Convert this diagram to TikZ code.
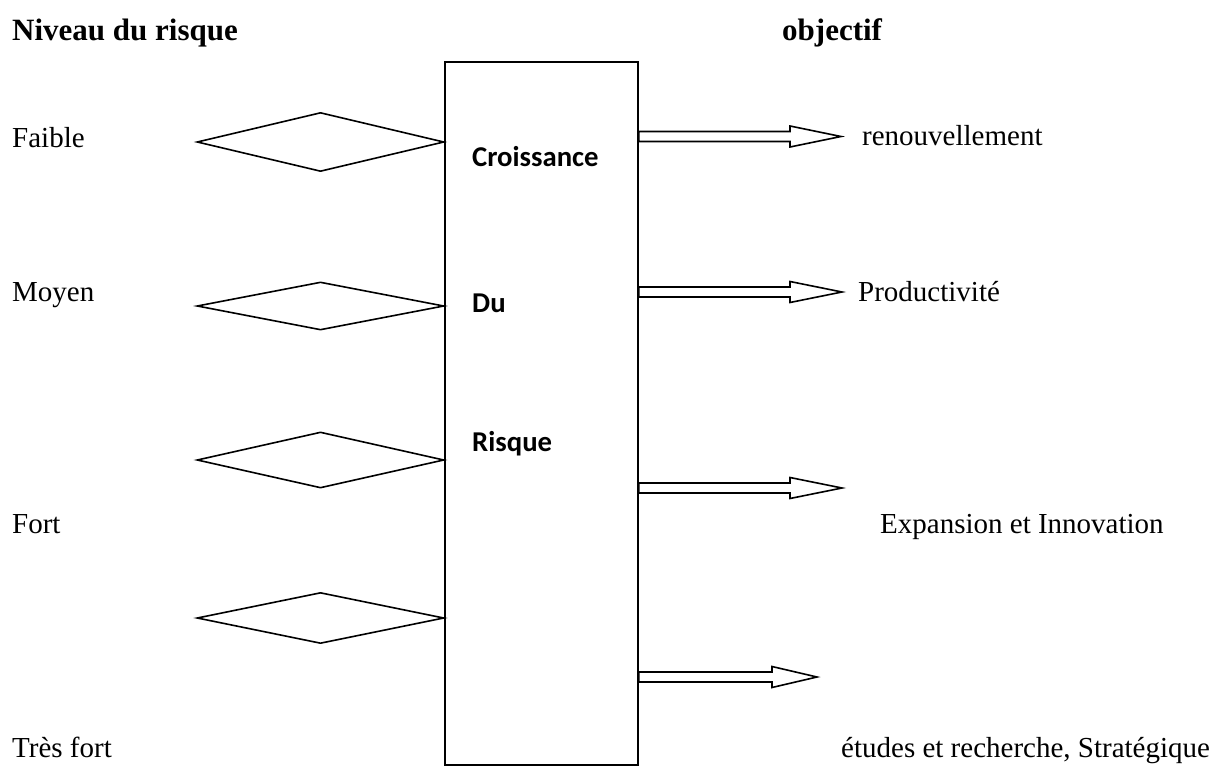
\documentclass[tikz,border=0pt]{standalone}
\usepackage{fontspec}
\setmainfont{Liberation Serif}
\newfontfamily\boxfont{Carlito}
\usetikzlibrary{shapes.geometric,calc}

\tikzset{
  lbl/.style={anchor=base west, inner sep=0pt, font=\fontsize{29}{34}\selectfont},
  head/.style={anchor=base west, inner sep=0pt, font=\fontsize{31}{36}\selectfont\bfseries},
  inlbl/.style={anchor=base west, inner sep=0pt, font=\boxfont\fontsize{28.7}{34}\selectfont\bfseries},
  bigbox/.style={draw, line width=1.8pt, fill=white},
  lozenge/.style={diamond, draw, line width=1.6pt, inner sep=0pt, minimum width=247pt},
  hollow/.style={draw, line width=1.6pt, fill=white, line join=miter},
}

% hollow block arrow: #1 start, #2 tip, #3 head length
\newcommand\hollowarrow[3]{%
  \draw[hollow] let \p1=(#1), \p2=(#2) in
    (\x1,\y1+5pt) -- (\x2-#3,\y1+5pt) -- (\x2-#3,\y1+10.5pt) -- (\x2,\y2)
    -- (\x2-#3,\y1-10.5pt) -- (\x2-#3,\y1-5pt) -- (\x1,\y1-5pt) -- cycle;}

\begin{document}
\begin{tikzpicture}[x=1pt,y=-1pt]
\useasboundingbox (0,0) rectangle (1214,770);

% headers
\node[head] (hL) at (12,41) {Niveau du risque};
\node[head] (hR) at (782,41) {objectif};

% central box
\node[bigbox, anchor=north west, minimum width=193pt, minimum height=703pt, inner sep=0pt] (box) at (444,61) {};

\node[inlbl] (t1) at (472,167) {Croissance};
\node[inlbl] (t2) at (472,312) {Du};
\node[inlbl] (t3) at (472,451) {Risque};

% risk levels
\node[lbl] (l1) at (12,148) {Faible};
\node[lbl] (l2) at (12,301) {Moyen};
\node[lbl] (l3) at (12,533) {Fort};
\node[lbl] (l4) at (12,757) {Très fort};

% diamonds touching the box
\node[lozenge, minimum height=59pt] (d1) at (320.5,142) {};
\node[lozenge, minimum height=48pt] (d2) at (320.5,306) {};
\node[lozenge, minimum height=56pt] (d3) at (320.5,460) {};
\node[lozenge, minimum height=51pt] (d4) at (320.5,618) {};

% objectives
\node[lbl] (o1) at (862,146) {renouvellement};
\node[lbl] (o2) at (858,301) {Productivité};
\node[lbl] (o3) at (880,533) {Expansion et Innovation};
\node[lbl] (o4) at (841,757) {études et recherche, Stratégique};

% arrow ends
\coordinate (s1) at (box.east |- 0,136.5);
\coordinate (s2) at (box.east |- 0,292);
\coordinate (s3) at (box.east |- 0,488);
\coordinate (s4) at (box.east |- 0,677);
\coordinate (e1) at (841,136.5);
\coordinate (e2) at (842,292);
\coordinate (e3) at (842,488);
\coordinate (e4) at (817,677);

\hollowarrow{s1}{e1}{51pt}
\hollowarrow{s2}{e2}{52pt}
\hollowarrow{s3}{e3}{52pt}
\hollowarrow{s4}{e4}{45pt}
\end{tikzpicture}
\end{document}
